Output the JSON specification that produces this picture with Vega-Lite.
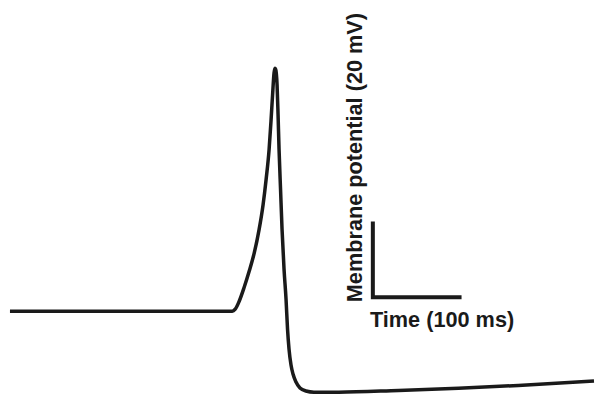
{
  "$schema": "https://vega.github.io/schema/vega-lite/v6.json",
  "width": 596,
  "height": 394,
  "autosize": {"type": "fit", "contains": "padding"},
  "padding": 0,
  "background": "white",
  "config": {"view": {"stroke": null}},
  "datasets": {
    "trace": [
      {"i": 1, "time": 11.49, "mV": -70},
      {"i": 2, "time": 267.82, "mV": -70},
      {"i": 3, "time": 271.26, "mV": -69.46},
      {"i": 4, "time": 275.86, "mV": -67.3},
      {"i": 5, "time": 281.61, "mV": -63.51},
      {"i": 6, "time": 287.36, "mV": -59.19},
      {"i": 7, "time": 293.1, "mV": -54.32},
      {"i": 8, "time": 298.85, "mV": -47.84},
      {"i": 9, "time": 303.45, "mV": -41.08},
      {"i": 10, "time": 306.9, "mV": -34.32},
      {"i": 11, "time": 310.34, "mV": -26.22},
      {"i": 12, "time": 312.64, "mV": -18.11},
      {"i": 13, "time": 314.37, "mV": -11.35},
      {"i": 14, "time": 316.09, "mV": -5.41},
      {"i": 15, "time": 317.01, "mV": -4.19},
      {"i": 16, "time": 317.93, "mV": -4.46},
      {"i": 17, "time": 319.54, "mV": -8.65},
      {"i": 18, "time": 320.69, "mV": -16.76},
      {"i": 19, "time": 321.84, "mV": -26.22},
      {"i": 20, "time": 323.56, "mV": -37.03},
      {"i": 21, "time": 325.29, "mV": -47.84},
      {"i": 22, "time": 327.59, "mV": -58.65},
      {"i": 23, "time": 329.89, "mV": -66.76},
      {"i": 24, "time": 331.61, "mV": -74.86},
      {"i": 25, "time": 333.33, "mV": -80.27},
      {"i": 26, "time": 335.63, "mV": -84.59},
      {"i": 27, "time": 337.93, "mV": -87.03},
      {"i": 28, "time": 341.38, "mV": -89.19},
      {"i": 29, "time": 345.98, "mV": -90.81},
      {"i": 30, "time": 352.87, "mV": -91.62},
      {"i": 31, "time": 362.07, "mV": -91.95},
      {"i": 32, "time": 390.8, "mV": -91.95},
      {"i": 33, "time": 459.77, "mV": -91.45},
      {"i": 34, "time": 528.74, "mV": -90.86},
      {"i": 35, "time": 597.7, "mV": -90.1},
      {"i": 36, "time": 685.06, "mV": -88.9}
    ],
    "scalebar": [
      {"i": 1, "time": 430, "mV": -46.22},
      {"i": 2, "time": 430, "mV": -66.22},
      {"i": 3, "time": 530, "mV": -66.22}
    ],
    "labels": [
      {"label": "Membrane potential (20 mV)", "time": 409.2, "mV": -28.38, "angle": 270},
      {"label": "Time (100 ms)", "time": 509.8, "mV": -72.43, "angle": 0}
    ]
  },
  "layer": [
    {
      "data": {"name": "trace"},
      "mark": {"type": "line", "color": "#1a1a1a", "strokeWidth": 3.5, "strokeJoin": "round", "interpolate": "monotone"},
      "encoding": {
        "x": {"field": "time", "type": "quantitative", "scale": {"domain": [0, 685.06], "nice": false, "zero": false}, "axis": null},
        "y": {"field": "mV", "type": "quantitative", "scale": {"domain": [-92.16, 14.32], "nice": false, "zero": false}, "axis": null},
        "order": {"field": "i", "type": "quantitative"}
      }
    },
    {
      "data": {"name": "scalebar"},
      "mark": {"type": "line", "color": "#1a1a1a", "strokeWidth": 4, "strokeJoin": "miter", "strokeCap": "square"},
      "encoding": {
        "x": {"field": "time", "type": "quantitative"},
        "y": {"field": "mV", "type": "quantitative"},
        "order": {"field": "i", "type": "quantitative"}
      }
    },
    {
      "data": {"name": "labels"},
      "mark": {"type": "text", "font": "Liberation Sans", "fontWeight": "bold", "fontSize": 21.7, "color": "#1a1a1a", "align": "center", "baseline": "middle"},
      "encoding": {
        "x": {"field": "time", "type": "quantitative"},
        "y": {"field": "mV", "type": "quantitative"},
        "text": {"field": "label"},
        "angle": {"field": "angle", "type": "quantitative", "scale": null}
      }
    }
  ]
}
